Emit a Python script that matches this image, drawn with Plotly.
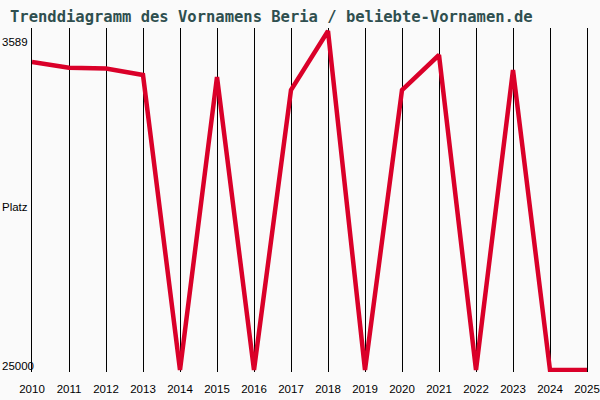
import plotly.graph_objects as go

# Rang des Vornamens pro Jahr (25000 = nicht in der Liste)
years = [2010, 2011, 2012, 2013, 2014, 2015, 2016, 2017,
         2018, 2019, 2020, 2021, 2022, 2023, 2024, 2025]
ranks = [5547, 5907, 5958, 6368, 25000, 6494, 25000, 7316,
         3589, 25000, 7316, 5105, 25000, 6052, 25000, 25000]

rank_best = 3589
rank_worst = 25000
y_labels = ["3589", "Platz", "25000"]

fig = go.Figure()
fig.add_trace(go.Scatter(
    x=years, y=ranks, mode='lines',
    line=dict(color='#da0029', width=4.5),
    hoverinfo='skip', showlegend=False
))

# etwas Luft oben/unten, damit die dicke Linie nicht abgeschnitten wird
px_per_rank = (rank_worst - rank_best) / 339
y_top = rank_best - 3 * px_per_rank
y_bottom = rank_worst + 2 * px_per_rank

label_font = dict(family='Liberation Sans, Arial, sans-serif', size=11.5, color='black')
annotations = []
for text, ypos in zip(y_labels, [0.959, 0.480, 0.0174]):
    annotations.append(dict(
        text=text, xref='paper', yref='paper', x=-32 / 555, y=ypos,
        xanchor='left', yanchor='middle', showarrow=False, font=label_font
    ))

fig.update_layout(
    width=600, height=400,
    margin=dict(l=32, r=13, t=28, b=28),
    paper_bgcolor='#fafafa', plot_bgcolor='#fafafa',
    title=dict(
        text='<b>Trenddiagramm des Vornamens Beria / beliebte-Vornamen.de</b>',
        xref='container', yref='container', x=10 / 600, y=1 - 17 / 400,
        xanchor='left', yanchor='middle', automargin=False,
        font=dict(family='DejaVu Sans Mono, monospace', size=15.5, color='#2f4f4f')
    ),
    xaxis=dict(
        range=[2010, 2025], tickvals=years, ticktext=[str(y) for y in years],
        showgrid=True, gridcolor='black', gridwidth=1, zeroline=False,
        ticks='', tickfont=label_font, ticklabelstandoff=8, fixedrange=True,
        automargin=False
    ),
    yaxis=dict(
        range=[y_bottom, y_top], showgrid=False, zeroline=False,
        showticklabels=False, ticks='', showline=True, linecolor='black',
        linewidth=1, mirror=True, fixedrange=True, automargin=False
    ),
    annotations=annotations
)

# Body-Rand des Browsers entfernen, damit das Bild bei (0, 0) beginnt
fig.write_html("out.html", config={'displayModeBar': False},
               post_script="document.body.style.margin='0';document.body.style.overflow='hidden';")
